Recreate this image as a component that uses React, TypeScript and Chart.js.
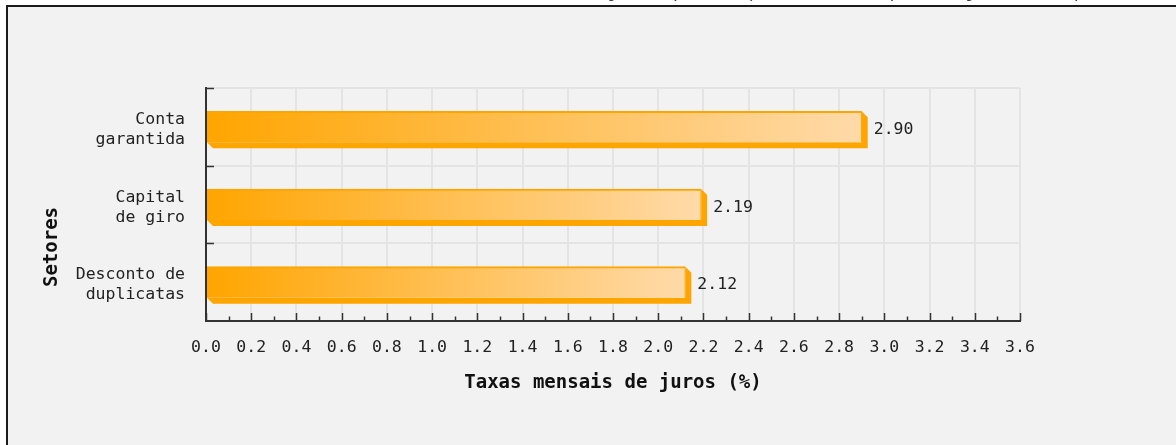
import React, { useEffect, useRef } from "react";
import { Chart, registerables } from "chart.js";

Chart.register(...registerables);

// ---- data ----
const categories: string[][] = [["Conta", "garantida"], ["Capital", "de giro"], ["Desconto de", "duplicatas"]];
const rates: number[] = [2.9, 2.19, 2.12];
const valueLabels: string[] = ["2.90", "2.19", "2.12"];
const xMin = 0;
const xMax = 3.6;
const xStep = 0.2;
const minorCount = 36; // minor ticks every 0.1
const xTitle = "Taxas mensais de juros (%)";
const yTitle = "Setores";
const topTitlePrefix = "Santa Catarina - taxas médias mensais ";
const topTitleRest = "(%) de juros para empréstimos de pessoa jurídica, por setores";

// ---- style ----
const MONO = "'DejaVu Sans Mono', 'Liberation Mono', monospace";
const ORANGE = "#FFA500";
const PALE = "#FFDAA9";
const DEPTH = 6;
const AXIS = "#333333";
const GRID = "#e4e4e4";

const decorPlugin = {
  id: "decor",
  beforeDatasetsDraw(chart: any) {
    const ctx = chart.ctx;
    const meta = chart.getDatasetMeta(0);
    ctx.save();
    ctx.fillStyle = ORANGE;
    meta.data.forEach((bar: any) => {
      const { x, y, base, height } = bar.getProps(["x", "y", "base", "height"], true);
      const top = y - height / 2;
      const bottom = y + height / 2;
      ctx.beginPath();
      ctx.moveTo(base, bottom);
      ctx.lineTo(base + DEPTH, bottom + DEPTH);
      ctx.lineTo(x + DEPTH, bottom + DEPTH);
      ctx.lineTo(x + DEPTH, top + DEPTH);
      ctx.lineTo(x, top);
      ctx.lineTo(x, bottom);
      ctx.closePath();
      ctx.fill();
    });
    ctx.restore();
  },
  afterDatasetsDraw(chart: any) {
    const ctx = chart.ctx;
    const meta = chart.getDatasetMeta(0);
    ctx.save();
    ctx.fillStyle = "#222";
    ctx.font = `16.5px ${MONO}`;
    ctx.textAlign = "left";
    ctx.textBaseline = "middle";
    meta.data.forEach((bar: any, i: number) => {
      const { x, y } = bar.getProps(["x", "y"], true);
      ctx.fillText(valueLabels[i], x + DEPTH + 6, y + 3);
    });
    ctx.restore();
  },
  afterDraw(chart: any) {
    const ctx = chart.ctx;
    const xs = chart.scales.x;
    const ys = chart.scales.y;
    const area = chart.chartArea;
    ctx.save();
    ctx.strokeStyle = AXIS;
    ctx.lineWidth = 1.5;
    // inward ticks on x axis
    for (let k = 0; k <= minorCount; k++) {
      const v = xMin + (k * (xMax - xMin)) / minorCount;
      const px = Math.round(xs.getPixelForValue(v)) + 0.5;
      const len = k % 2 === 0 ? 8 : 4.5;
      ctx.beginPath();
      ctx.moveTo(px, area.bottom);
      ctx.lineTo(px, area.bottom - len);
      ctx.stroke();
    }
    // inward ticks on y axis at category boundaries
    for (let i = 0; i < categories.length; i++) {
      const py = Math.round(ys.getPixelForValue(i - 0.5)) + 0.5;
      ctx.beginPath();
      ctx.moveTo(area.left, py);
      ctx.lineTo(area.left + 8, py);
      ctx.stroke();
    }
    // y title
    ctx.fillStyle = "#111";
    ctx.font = `bold 19px ${MONO}`;
    ctx.textAlign = "center";
    ctx.textBaseline = "middle";
    ctx.translate(52, 247);
    ctx.rotate(-Math.PI / 2);
    ctx.fillText(yTitle, 0, 0);
    ctx.restore();

    // clipped top title (only the lowest pixels show above the frame)
    ctx.save();
    ctx.fillStyle = "#444";
    ctx.font = `18px ${MONO}`;
    ctx.textAlign = "left";
    ctx.textBaseline = "alphabetic";
    const w = ctx.measureText(topTitlePrefix).width;
    ctx.fillText(topTitlePrefix + topTitleRest, 532 - w, -3.5);
    ctx.restore();
  },
};

export default function App() {
  const ref = useRef<HTMLCanvasElement | null>(null);

  useEffect(() => {
    if (!ref.current) return;
    const chart = new Chart(ref.current, {
      type: "bar",
      data: {
        labels: categories,
        datasets: [
          {
            data: rates,
            backgroundColor: (c: any) => {
              const ch = c.chart;
              const xs = ch.scales && ch.scales.x;
              const v = c.parsed ? c.parsed.x : undefined;
              if (!xs || v === undefined) return ORANGE;
              const x0 = xs.getPixelForValue(0);
              const x1 = xs.getPixelForValue(v);
              if (!isFinite(x0) || !isFinite(x1) || x1 === x0) return ORANGE;
              const g = ch.ctx.createLinearGradient(x0, 0, x1, 0);
              g.addColorStop(0, ORANGE);
              g.addColorStop(1, PALE);
              return g;
            },
            borderColor: ORANGE,
            borderWidth: { top: 2, left: 0, right: 1, bottom: 0 },
            borderSkipped: false,
            barThickness: 31,
          },
        ],
      },
      options: {
        indexAxis: "y",
        animation: false,
        responsive: false,
        layout: { padding: { left: 0, right: 156, top: 88, bottom: 44 } },
        plugins: { legend: { display: false }, tooltip: { enabled: false }, title: { display: false } },
        scales: {
          x: {
            type: "linear",
            min: xMin,
            max: xMax,
            afterFit: (s: any) => {
              s.height = 80;
            },
            ticks: {
              stepSize: xStep,
              color: "#222",
              padding: 17,
              font: { family: MONO, size: 16.5 },
              callback: (v: any) => Number(v).toFixed(1),
              maxRotation: 0,
              autoSkip: false,
            },
            grid: { color: GRID, lineWidth: 2, drawTicks: false },
            border: { display: true, color: AXIS, width: 2 },
            title: {
              display: true,
              text: xTitle,
              color: "#111",
              font: { family: MONO, size: 19, weight: "bold" },
              padding: { top: 0, bottom: 7 },
            },
          },
          y: {
            type: "category",
            afterFit: (s: any) => {
              s.width = 206;
            },
            ticks: {
              color: "#222",
              padding: 21,
              labelOffset: 3,
              font: { family: MONO, size: 16.5, lineHeight: "20px" },
            },
            grid: { color: GRID, lineWidth: 2, drawTicks: false, offset: true },
            border: { display: true, color: AXIS, width: 2 },
          },
        },
      },
      plugins: [decorPlugin],
    } as any);
    return () => chart.destroy();
  }, []);

  return (
    <div
      style={{
        position: "fixed",
        left: 0,
        top: 0,
        width: 1176,
        height: 445,
        overflow: "hidden",
        background: "#ffffff",
      }}
    >
      <div
        style={{
          position: "absolute",
          left: 6,
          top: 5,
          width: 1200,
          height: 460,
          borderLeft: "2px solid #1a1a1a",
          borderTop: "2px solid #1a1a1a",
          background: "#f2f2f2",
        }}
      />
      <canvas
        ref={ref}
        width={1176}
        height={445}
        style={{ position: "absolute", left: 0, top: 0, width: 1176, height: 445 }}
      />
    </div>
  );
}
